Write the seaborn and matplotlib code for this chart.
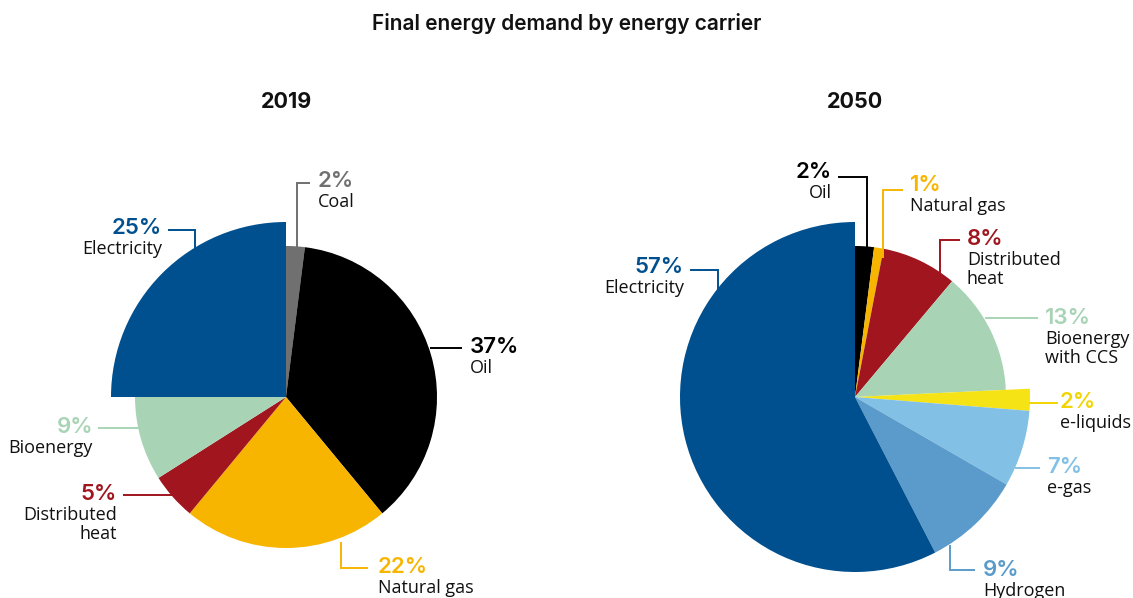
import matplotlib
matplotlib.use("Agg")
import matplotlib.pyplot as plt
import seaborn as sns

# ---------------- data ----------------
title = "Final energy demand by energy carrier"

years = ["2019", "2050"]

cats_2019 = ["Coal", "Oil", "Natural gas", "Distributed\nheat", "Bioenergy", "Electricity"]
vals_2019 = [2, 37, 22, 5, 9, 25]
cols_2019 = ["#707070", "#000000", "#F7B500", "#A0151E", "#A8D4B5", "#00508F"]
big_2019 = [False, False, False, False, False, True]

cats_2050 = ["Oil", "Natural gas", "Distributed\nheat", "Bioenergy\nwith CCS",
             "e-liquids", "e-gas", "Hydrogen", "Electricity"]
vals_2050 = [2, 1, 8, 13, 2, 7, 9, 57]
cols_2050 = ["#000000", "#F7B500", "#A0151E", "#A8D4B5",
             "#F5E316", "#82C1E5", "#5A9BCB", "#00508F"]
big_2050 = [False, False, False, False, True, True, True, True]

# ---------------- style ----------------
sns.set_theme(style="white")
LABEL_FONT = ["Liberation Sans Narrow", "Open Sans", "DejaVu Sans"]
PCT_FONT = ["Inter", "Lato", "DejaVu Sans"]

W, H = 1133, 598
fig = plt.figure(figsize=(W / 100, H / 100), dpi=100)
ax = fig.add_axes([0, 0, 1, 1])

R_SMALL, R_BIG = 151, 175
centers = {"2019": (286, 397), "2050": (855, 397)}


def draw_pie(vals, cols, big, center):
    wedges, _ = ax.pie(vals, colors=cols, startangle=-90, counterclock=True,
                       radius=R_SMALL, center=center, normalize=True,
                       wedgeprops=dict(linewidth=0), frame=True)
    for w, b in zip(wedges, big):
        if b:
            w.set_radius(R_BIG)
    return wedges


draw_pie(vals_2019, cols_2019, big_2019, centers["2019"])
draw_pie(vals_2050, cols_2050, big_2050, centers["2050"])

ax.set_xlim(0, W)
ax.set_ylim(H, 0)
ax.set_aspect("equal")
ax.axis("off")


def label(pct, name, color, x, y, ha, line):
    ax.text(x, y, f"{pct}%", color=color, ha=ha, va="center",
            fontsize=16, fontweight="semibold", family=PCT_FONT)
    ax.text(x, y + 12, name, color="#111111", ha=ha, va="top",
            fontsize=13, family=LABEL_FONT, linespacing=1.08)
    xs, ys = zip(*line)
    ax.plot(xs, ys, color=color, lw=1.4, solid_capstyle="butt",
            solid_joinstyle="miter")


# 2019 labels
label(vals_2019[0], cats_2019[0], cols_2019[0], 318, 181, "left",
      [(297, 250), (297, 183), (310, 183)])
label(vals_2019[1], cats_2019[1], cols_2019[1], 470, 347, "left",
      [(430, 348), (462, 348)])
label(vals_2019[2], cats_2019[2], cols_2019[2], 378, 567, "left",
      [(341, 542), (341, 568), (368, 568)])
label(vals_2019[3], cats_2019[3], "#A0151E", 117, 494, "right",
      [(123, 495), (175, 495)])
label(vals_2019[4], cats_2019[4], cols_2019[4], 93, 427, "right",
      [(98, 428), (140, 428)])
label(vals_2019[5], cats_2019[5], cols_2019[5], 162, 228, "right",
      [(168, 230), (195, 230), (195, 252)])

# 2050 labels
label(vals_2050[0], cats_2050[0], cols_2050[0], 832, 172, "right",
      [(838, 177), (867, 177), (867, 256)])
label(vals_2050[1], cats_2050[1], cols_2050[1], 910, 185, "left",
      [(883, 258), (883, 190), (903, 190)])
label(vals_2050[2], cats_2050[2], cols_2050[2], 967, 239, "left",
      [(940, 280), (940, 240), (960, 240)])
label(vals_2050[3], cats_2050[3], cols_2050[3], 1045, 318, "left",
      [(985, 318), (1038, 318)])
label(vals_2050[4], cats_2050[4], "#F2D500", 1060, 402, "left",
      [(1029, 403), (1058, 403)])
label(vals_2050[5], cats_2050[5], cols_2050[5], 1047, 467, "left",
      [(1015, 468), (1040, 468)])
label(vals_2050[6], cats_2050[6], cols_2050[6], 983, 570, "left",
      [(950, 545), (950, 570), (975, 570)])
label(vals_2050[7], cats_2050[7], cols_2050[7], 684, 267, "right",
      [(690, 270), (718, 270), (718, 292)])

# titles
ax.text(W / 2, 23, title, ha="center", va="center", fontsize=15,
        fontweight="semibold", family=PCT_FONT, color="#111111")
for yr in years:
    ax.text(centers[yr][0], 102, yr, ha="center", va="center", fontsize=15.5,
            fontweight="bold", family=PCT_FONT, color="#111111")

fig.savefig("out.png", dpi=100)
